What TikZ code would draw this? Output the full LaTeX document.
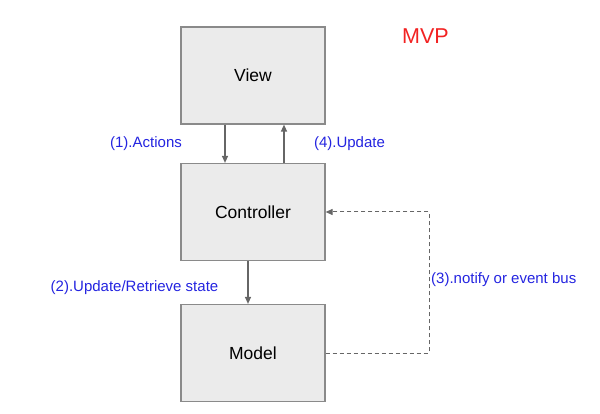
\documentclass[tikz,border=0pt]{standalone}
\usepackage{fontspec}
\setmainfont{Liberation Sans}
\usetikzlibrary{arrows.meta}
\definecolor{boxfill}{HTML}{EBEBEB}
\definecolor{boxline}{HTML}{8A8A8A}
\definecolor{arrgray}{HTML}{666666}
\definecolor{labblue}{HTML}{2424E0}
\definecolor{titlered}{HTML}{F22222}

\tikzset{
  box/.style ={draw=boxline, line width=1.2pt, fill=boxfill, minimum width=144pt,
    minimum height=97pt, inner sep=0, font=\fontsize{17.5}{20}\selectfont},
  flow/.style ={-{Triangle[length=7pt,width=6pt]}, draw=arrgray, line width=1.2pt},
  notify/.style ={-{Triangle[length=7pt,width=6pt]}, draw=arrgray, line width=1pt,
    dash pattern=on 4pt off 3pt},
  lab/.style ={text=labblue, inner sep=0, font=\fontsize{15}{18}\selectfont}
}

\begin{document}
\begin{tikzpicture}[x=1pt,y=-1pt]
\useasboundingbox (0,0) rectangle (600,414);
% the three parts
\node[box] (view) at (253,75.5) {View};
\node[box] (ctrl) at (253,212) {Controller};
\node[box] (model) at (253,353) {Model};
\node[text=titlered, inner sep=0, font=\fontsize{21.5}{24}\selectfont] (title) at (425.5,36) {MVP};
% arrows between them
\draw[flow] ([xshift=-28pt]view.south) -- ([xshift=-28pt]ctrl.north);
\draw[flow] ([xshift=31pt]ctrl.north) -- ([xshift=31pt]view.south);
\draw[flow] ([xshift=-5pt]ctrl.south) -- ([xshift=-5pt]model.north);
\coordinate (busturn) at (429,353);
\draw[notify] (model.east) -- (busturn) |- (ctrl.east);
% labels
\node[lab] (actions) at (146,144) {(1).Actions};
\node[lab] (update) at (349.5,143.5) {(4).Update};
\node[lab] (retrieve) at (134.5,288) {(2).Update/Retrieve state};
\node[lab, anchor=west] (bus) at (431,279.5) {(3).notify or event bus};
\end{tikzpicture}
\end{document}
